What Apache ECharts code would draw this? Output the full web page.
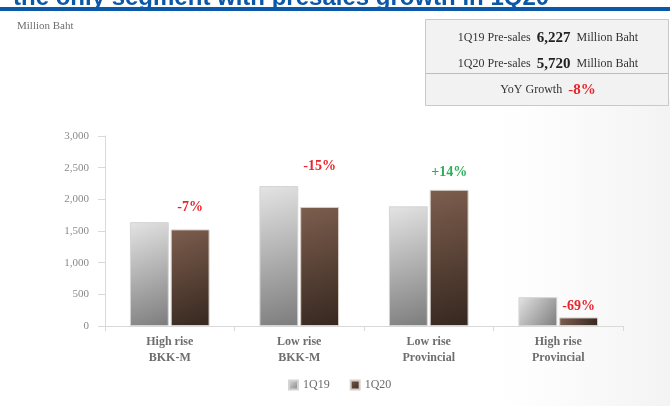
<!DOCTYPE html>
<html>
<head>
<meta charset="utf-8">
<script src="https://cdn.jsdelivr.net/npm/echarts@6/dist/echarts.min.js"></script>
<style>html,body{margin:0;padding:0;background:#fff}#c{width:670px;height:406px}</style>
</head>
<body>
<div id="c"></div>
<script>
var categories = ['High rise\nBKK-M', 'Low rise\nBKK-M', 'Low rise\nProvincial', 'High rise\nProvincial'];
var seriesNames = ['1Q19', '1Q20'];
var values1Q19 = [1640, 2210, 1890, 455];
var values1Q20 = [1525, 1880, 2150, 135];
var growthLabels = ['-7%', '-15%', '+14%', '-69%'];
var growthColors = ['#e8242c', '#e8242c', '#2bb05a', '#e8242c'];
var yTicks = { min: 0, max: 3000, interval: 500 };
var summary = { q19: '6,227', q20: '5,720', yoy: '-8%' };
var titleText = 'the only segment with presales growth in 1Q20';

// layout (label gap above the 1Q20 bar, px)
var growthLabelGap = [15, 34, 10, 4];

var serif = '"Liberation Serif", "Times New Roman", serif';
var sans = '"Liberation Sans", Arial, sans-serif';
var gridTop = 136, gridBottom = 80;

function grad(c1, c2) {
  return new echarts.graphic.LinearGradient(0, 0, 1, 1, [
    { offset: 0, color: c1 }, { offset: 1, color: c2 }
  ]);
}

var q20Data = values1Q20.map(function (v, i) {
  return {
    value: v,
    label: {
      show: true,
      position: 'top',
      distance: growthLabelGap[i],
      formatter: growthLabels[i],
      color: growthColors[i],
      fontFamily: serif,
      fontWeight: 'bold',
      fontSize: 14
    }
  };
});

var chart = echarts.init(document.getElementById('c'), null, { renderer: 'canvas' });
chart.setOption({
  backgroundColor: '#ffffff',
  animation: false,
  grid: { left: 105, right: 47, top: gridTop, bottom: gridBottom },
  legend: {
    data: seriesNames,
    left: 283, top: 374,
    icon: 'rect', itemWidth: 9, itemHeight: 9, itemGap: 20,
    textStyle: { fontFamily: serif, fontSize: 12, color: '#6a6a6a' }
  },
  xAxis: {
    type: 'category',
    data: categories,
    axisLine: { lineStyle: { color: '#d9d9d9' } },
    axisTick: { show: true, length: 5, lineStyle: { color: '#d9d9d9' } },
    axisLabel: {
      margin: 8, fontFamily: serif, fontWeight: 'bold', fontSize: 12,
      color: '#6e6e6e', lineHeight: 16
    }
  },
  yAxis: {
    type: 'value',
    min: yTicks.min, max: yTicks.max, interval: yTicks.interval,
    splitLine: { show: false },
    axisLine: { show: true, lineStyle: { color: '#d9d9d9' } },
    axisTick: { show: true, length: 7, lineStyle: { color: '#d9d9d9' } },
    axisLabel: { margin: 16, fontFamily: serif, fontSize: 11, color: '#8a8a8a' }
  },
  series: [
    {
      name: seriesNames[0], type: 'bar', data: values1Q19,
      barWidth: '30%', barGap: '5%',
      itemStyle: { color: grad('#e4e4e4', '#7c7c7c'), borderColor: '#d4d4d4', borderWidth: 1 }
    },
    {
      name: seriesNames[1], type: 'bar', data: q20Data,
      barWidth: '30%', barGap: '5%',
      itemStyle: { color: grad('#7d5e4e', '#35271f'), borderColor: '#d8cfc8', borderWidth: 1 }
    }
  ],
  graphic: [
    { type: 'rect', z: -10, shape: { x: 500, y: 100, width: 170, height: 306 },
      style: { fill: new echarts.graphic.LinearGradient(0, 0, 1, 0, [
        { offset: 0, color: 'rgba(246,246,246,0)' }, { offset: 1, color: 'rgba(243,243,243,1)' }]) } },
    { type: 'rect', shape: { x: 0, y: 7, width: 670, height: 4 }, style: { fill: '#0b57a8' }, z: 10 },
    { type: 'text', x: 13, y: 10, style: { text: titleText, font: 'bold 24px ' + sans, fill: '#0b57a8', textVerticalAlign: 'bottom' }, z: 9 },
    { type: 'text', x: 17, y: 26, style: { text: 'Million Baht', font: '11px ' + serif, fill: '#6f6f6f', textVerticalAlign: 'middle' } },
    { type: 'rect', shape: { x: 425.5, y: 19.5, width: 243, height: 86 }, style: { fill: '#f2f2f2', stroke: '#c9c9c9', lineWidth: 1 } },
    { type: 'line', shape: { x1: 426, y1: 73.5, x2: 668, y2: 73.5 }, style: { stroke: '#bdbdbd', lineWidth: 1 } },
    { type: 'text', x: 548, y: 38, style: {
        text: '{a|1Q19 Pre-sales  }{b|' + summary.q19 + '}{a|  Million Baht}',
        textAlign: 'center', textVerticalAlign: 'middle',
        rich: { a: { font: '12px ' + serif, fill: '#333' }, b: { font: 'bold 15px ' + serif, fill: '#222' } } } },
    { type: 'text', x: 548, y: 64, style: {
        text: '{a|1Q20 Pre-sales  }{b|' + summary.q20 + '}{a|  Million Baht}',
        textAlign: 'center', textVerticalAlign: 'middle',
        rich: { a: { font: '12px ' + serif, fill: '#333' }, b: { font: 'bold 15px ' + serif, fill: '#222' } } } },
    { type: 'text', x: 548, y: 90, style: {
        text: '{a|YoY Growth  }{b|' + summary.yoy + '}',
        textAlign: 'center', textVerticalAlign: 'middle',
        rich: { a: { font: '12px ' + serif, fill: '#333' }, b: { font: 'bold 15px ' + serif, fill: '#e8242c' } } } }
  ]
});
</script>
</body>
</html>
